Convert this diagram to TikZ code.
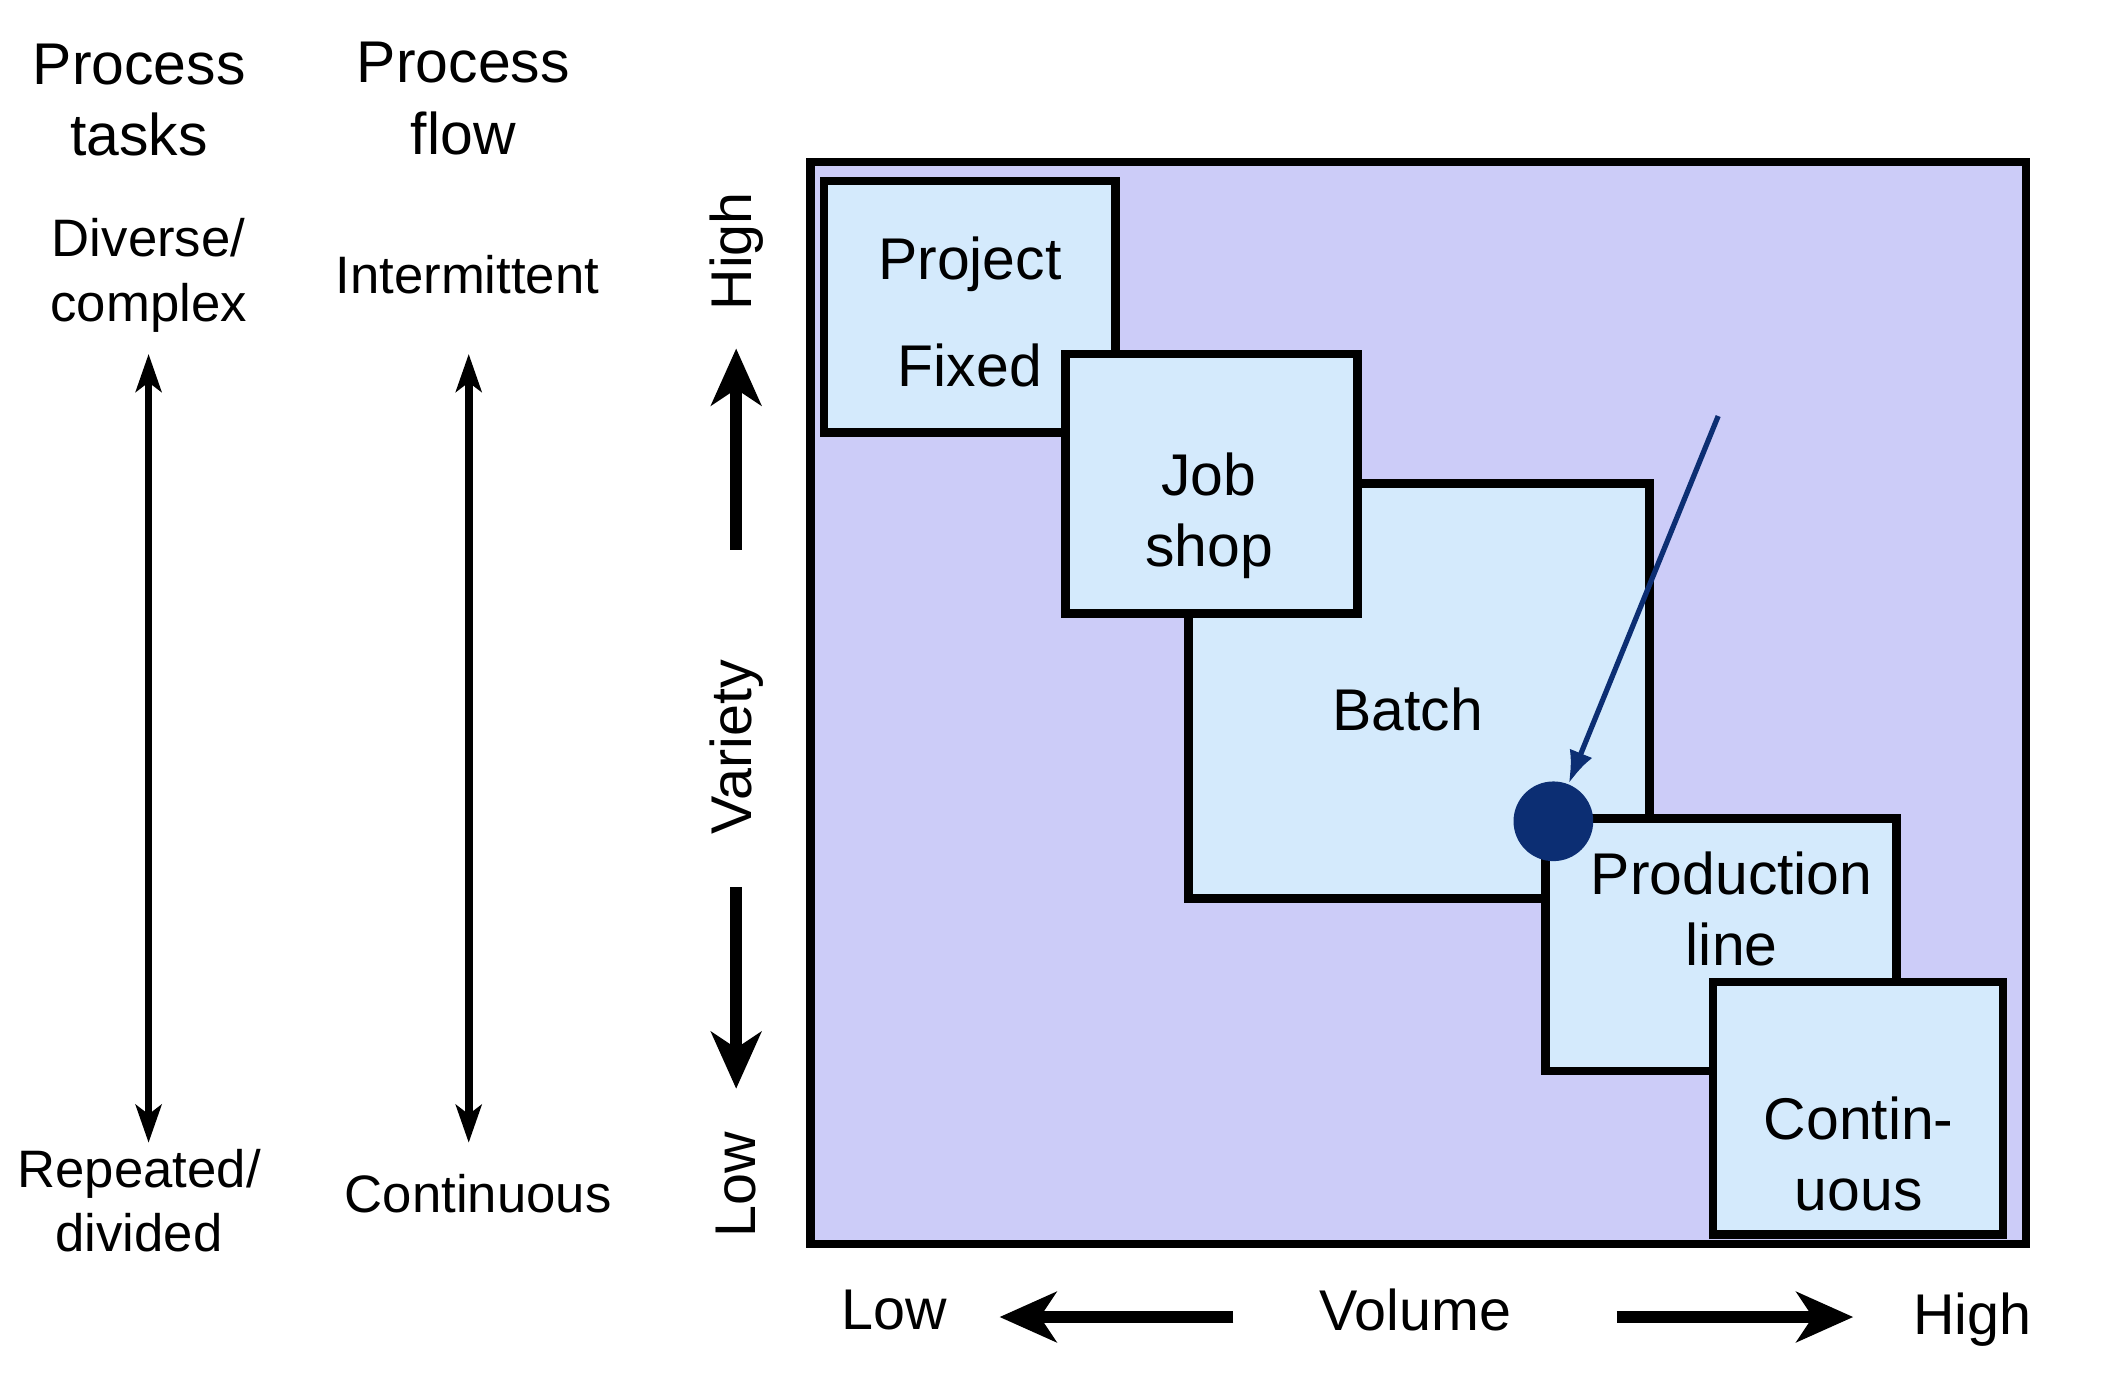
\documentclass[tikz,border=0pt]{standalone}
\usepackage{fontspec}
\setmainfont{Liberation Sans}
\usetikzlibrary{arrows.meta}
\definecolor{field}{RGB}{204,204,248}
\definecolor{cell}{RGB}{212,234,252}
\definecolor{navy}{RGB}{12,46,115}
\tikzset{
  cellbox/.style={draw=black,line width=1.8pt,fill=cell,inner sep=0pt},
  big/.style={font=\fontsize{12.4}{15}\selectfont,align=center,inner sep=0pt},
  small/.style={font=\fontsize{11.1}{13.6}\selectfont,align=center,inner sep=0pt},
  axis/.style={font=\fontsize{12.1}{14}\selectfont,inner sep=0pt},
  dblarrow/.style={line width=1.6pt,{Stealth[length=2.8mm,width=1.9mm,inset=0.7mm]}-{Stealth[length=2.8mm,width=1.9mm,inset=0.7mm]}},
  bigarrow/.style={line width=2.4pt,-{Stealth[length=4.2mm,width=3.7mm,inset=1.2mm]}}
}
\begin{document}
\begin{tikzpicture}[x=0.1mm,y=-0.1mm]
\useasboundingbox (0,0) rectangle (1568,1036.4);
% left hand scales
\node[big] (tasks) at (103,74) {Process\\tasks};
\node[big] (flow) at (343,73) {Process\\flow};
\node[small] (diverse) at (110,204) {Diverse/\\complex};
\node[small] (interm) at (346,203) {Intermittent};
\node[small] (repeat) at (103,889) {Repeated/\\divided};
\node[small] (contflow) at (354,884) {Continuous};
\foreach \n/\x in {tasks/110,flow/347}{
  \coordinate (\n top) at (\x,262);
  \coordinate (\n bot) at (\x,846);
  \draw[dblarrow] (\n top) -- (\n bot);
}
% variety axis
\node[axis,rotate=90] (vhigh) at (545,186) {High};
\node[axis,rotate=90] (variety) at (545,553) {Variety};
\node[axis,rotate=90] (vlow) at (545,877) {Low};
\coordinate (vup) at (545,407);
\coordinate (vuptip) at (545,258);
\coordinate (vdown) at (545,657);
\coordinate (vdowntip) at (545,806);
\draw[bigarrow] (vup) -- (vuptip);
\draw[bigarrow] (vdown) -- (vdowntip);
% volume axis
\node[axis] (lowvol) at (662,970) {Low};
\node[axis] (volume) at (1048,970) {Volume};
\node[axis] (highvol) at (1460,977) {High};
\coordinate (vlstart) at (913,975);
\coordinate (vltip) at (740,975);
\coordinate (vrstart) at (1197,975);
\coordinate (vrtip) at (1372,975);
\draw[bigarrow] (vlstart) -- (vltip);
\draw[bigarrow] (vrstart) -- (vrtip);
% process matrix
\node[draw=black,line width=1.8pt,fill=field,minimum width=90mm,minimum height=80.1mm,inner sep=0pt] (matrix) at (1050,520.5) {};
\foreach \n/\cx/\cy/\w/\h in {project/718/227/21.6/18.6,batch/1050.5/511.5/34.1/30.7,jobshop/897/358/21.6/19.2,prodline/1274/699.5/26/18.7,continuous/1375.5/820.5/21.5/18.7}
  \node[cellbox,minimum width=\w mm,minimum height=\h mm] (\n) at (\cx,\cy) {};
\node[big] (projtxt) at (718,231) {Project\\[7.5pt]Fixed};
\node[big] (jobtxt) at (895,382) {Job\\shop};
\node[big] (batchtxt) at (1042,525) {Batch};
\node[big] (prodtxt) at (1282,673) {Production\\line};
\node[big] (conttxt) at (1376,854) {Contin-\\uous};
\node[circle,fill=navy,minimum size=5.9mm,inner sep=0pt] (dot) at (1150,608) {};
\coordinate (pointer) at (1272,308);
\draw[navy,line width=1.1pt,-{Latex[length=2.4mm,width=1.8mm]}] (pointer) -- (dot);
\end{tikzpicture}
\end{document}
